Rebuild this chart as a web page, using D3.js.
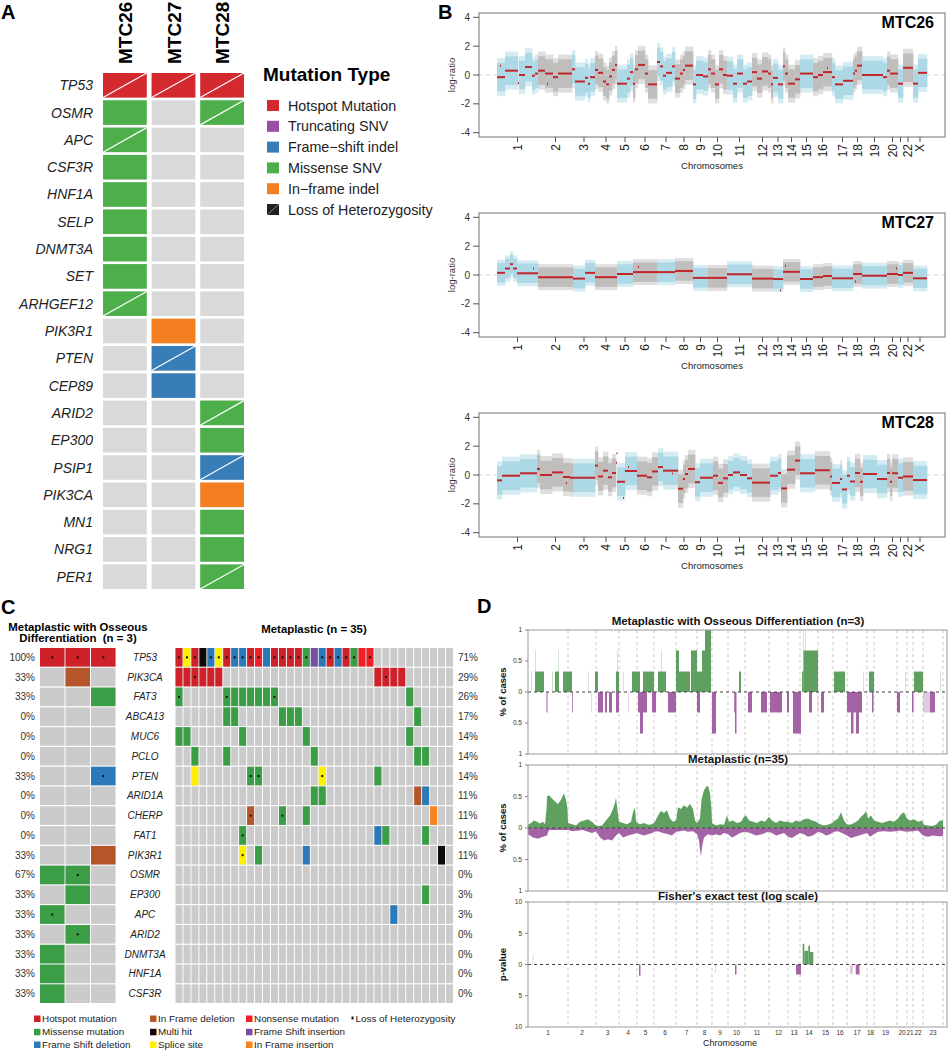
<!DOCTYPE html>
<html><head><meta charset="utf-8">
<script src="https://cdn.jsdelivr.net/npm/d3@7"></script>
<style>body{margin:0;background:#fff}svg{display:block}text{font-family:"Liberation Sans",Arial,Helvetica,sans-serif}</style>
</head><body><svg id="fig" width="948" height="1050"></svg>
<script>
// ================= DATA =================
// ---- Panel A
const aSamples = ["MTC26","MTC27","MTC28"];
const aGenes = ["TP53","OSMR","APC","CSF3R","HNF1A","SELP","DNMT3A","SET","ARHGEF12","PIK3R1","PTEN","CEP89","ARID2","EP300","PSIP1","PIK3CA","MN1","NRG1","PER1"];
const aTypes = ["Hotspot Mutation","Truncating SNV","Frame\u2212shift indel","Missense SNV","In\u2212frame indel","Loss of Heterozygosity"];
const aTypeColors = ["#d42a2f","#984ea3","#377eb8","#4daf4a","#f47f20","#231f20"];
// [gene, sample, type index, LOH flag]
const aMutations = [
  ["TP53","MTC26",0,1],["TP53","MTC27",0,1],["TP53","MTC28",0,1],
  ["OSMR","MTC26",3,0],["OSMR","MTC28",3,1],
  ["APC","MTC26",3,1],["CSF3R","MTC26",3,0],["HNF1A","MTC26",3,0],["SELP","MTC26",3,0],
  ["DNMT3A","MTC26",3,0],["SET","MTC26",3,0],["ARHGEF12","MTC26",3,1],
  ["PIK3R1","MTC27",4,0],["PTEN","MTC27",2,1],["CEP89","MTC27",2,0],
  ["ARID2","MTC28",3,1],["EP300","MTC28",3,0],["PSIP1","MTC28",2,1],["PIK3CA","MTC28",4,0],
  ["MN1","MTC28",3,0],["NRG1","MTC28",3,0],["PER1","MTC28",3,1]
];

// ---- Panel B (copy number, positions in probe-index units along the genome)
const bChroms = ["1","2","3","4","5","6","7","8","9","10","11","12","13","14","15","16","17","18","19","20","21","22","X"];
const bTickLabels = ["1","2","3","4","5","6","7","8","9","10","11","12","13","14","15","16","17","18","19","20","","22","X"];
const bChromLen = [41,35,22,22,16,24,18,18,15,19,25,21,10,17,13,19,21,9,25,11,5,10,14];
const bYTicks = [-4,-2,0,2,4];
const bNoise = [1.1, 0.75, 1.1]; // half-width of probe cloud per sample
// segments: [start, end, mean log-ratio]
const segMTC26 = [
 [0,8,-0.15],[3,4,0.65],[8,21,0.3],[21,22,-0.55],[22,28,0.0],[28,35,0.55],[35,38,-0.05],[38,41,0.1],
 [41,48,0.3],[48,56,0.1],[50,51,-0.6],[56,61,-0.15],[61,75,0.1],[75,78,0.4],
 [78,88,-0.45],[88,91,-0.2],[91,93,-0.6],[93,98,-0.15],
 [98,101,0.35],[101,106,0.15],[106,109,-0.45],[109,112,-0.65],[112,115,-0.1],[115,118,0.35],[118,120,0.7],
 [120,130,-0.6],[130,133,-0.25],[133,136,0.2],
 [136,138,-0.6],[138,141,0.4],[141,148,0.7],[148,151,0.1],[151,160,-0.65],
 [160,163,0.9],[163,166,0.6],[166,169,-0.05],[169,175,0.15],[175,178,0.6],
 [178,183,-0.25],[183,186,0.1],[186,188,0.35],[188,196,0.65],
 [196,199,-0.65],[199,206,0.0],[206,211,-0.1],
 [211,214,0.4],[214,218,0.1],[218,222,-0.65],[222,226,0.4],[226,230,0.0],
 [230,236,-0.05],[236,240,-0.6],[240,246,0.1],[246,250,-0.6],[250,255,-0.45],
 [255,260,0.2],[260,265,-0.25],[265,271,0.25],[271,274,0.1],[274,276,-0.65],
 [276,281,-0.2],[281,286,-0.65],
 [286,288,0.6],[288,291,0.1],[291,298,-0.6],[298,303,-0.3],
 [303,316,0.1],
 [316,321,-0.15],[321,326,0.0],[326,335,0.2],[330,331,0.5],
 [335,338,-0.15],[338,346,-0.65],[346,356,-0.4],
 [356,358,0.1],[358,360,0.3],[360,365,0.65],
 [365,386,0.0],[386,390,-0.15],
 [390,393,0.3],[393,401,0.1],
 [401,406,-0.6],[406,416,0.5],
 [416,421,-0.6],[421,430,0.15]
];
const segMTC27 = [
 [0,8,0.15],[8,13,0.45],[13,16,0.75],[16,20,0.45],[20,41,0.12],[36,37,0.45],
 [41,76,-0.15],[76,88,-0.25],[88,98,0.15],[98,120,-0.15],[120,136,0.07],
 [136,160,0.2],[141,142,0.55],[160,178,0.2],[178,196,0.28],
 [196,211,-0.2],[211,230,-0.2],[230,255,0.05],[255,276,-0.25],
 [276,286,-0.28],[283,284,-1.05],[286,303,0.22],[288,289,0.65],
 [303,316,-0.28],[316,326,-0.15],[326,335,-0.07],[335,356,-0.23],
 [356,365,0.07],[358,359,-0.45],[365,390,-0.05],[390,401,0.07],[399,400,0.45],
 [401,406,0.0],[406,416,0.15],[416,430,-0.23]
];
const segMTC28 = [
 [0,5,-0.37],[5,23,-0.05],[23,40,0.12],[40,43,0.42],
 [43,55,0.0],[55,66,0.18],[66,73,-0.14],[69,70,-0.55],[73,76,-0.19],
 [76,98,-0.19],
 [98,101,0.65],[101,106,-0.1],[106,111,0.3],[111,115,-0.16],[115,119,0.14],[119,120,0.85],[119.5,120.5,1.5],
 [120,128,-0.47],[126,127,-1.6],[128,140,0.28],[131,132,0.55],
 [140,150,-0.05],[150,155,-0.16],[155,161,0.25],
 [161,166,0.55],[166,181,0.3],[175,176,0.1],
 [181,186,-0.95],[186,188,-0.28],[188,191,0.07],[191,198,0.42],
 [198,203,-0.5],[203,216,-0.19],[216,221,-0.05],[221,226,-0.55],[226,231,-0.23],
 [231,236,0.0],[236,243,0.18],[243,250,0.0],[250,255,-0.23],
 [255,273,-0.53],[273,281,-0.05],[281,284,0.14],[284,290,-0.93],
 [290,298,0.37],[298,303,1.0],
 [303,318,0.12],[318,333,0.33],[333,335,-0.1],
 [335,343,-0.55],[343,345,-0.28],[345,350,-1.0],[350,353,-0.05],[353,358,-0.45],
 [358,363,0.14],[363,366,-0.47],[366,380,0.07],[380,390,-0.28],
 [390,393,0.14],[393,395,-0.47],[395,401,0.12],[401,406,-0.19],[406,416,-0.1],[416,430,-0.35]
];

// ---- Panel C (oncoprint)
const cGenes = ["TP53","PIK3CA","FAT3","ABCA13","MUC6","PCLO","PTEN","ARID1A","CHERP","FAT1","PIK3R1","OSMR","EP300","APC","ARID2","DNMT3A","HNF1A","CSF3R"];
const cPctOsseous = ["100%","33%","33%","0%","0%","0%","33%","0%","0%","0%","33%","67%","33%","33%","33%","33%","33%","33%"];
const cPctMeta = ["71%","29%","26%","17%","14%","14%","14%","11%","11%","11%","11%","0%","3%","3%","0%","0%","0%","0%"];
const cTypes = ["Hotspot mutation","Missense mutation","Frame Shift deletion","In Frame deletion","Multi hit","Splice site","Nonsense mutation","Frame Shift insertion","In Frame insertion"];
const cTypeColors = ["#cf2129","#3b9e46","#2b79b8","#b4552a","#0a0a0a","#fff000","#ee1f26","#7b4ea2","#f7821f"];
// [gene, column, type index, LOH flag]
const cOsseous = [
 ["TP53",0,0,1],["TP53",1,0,1],["TP53",2,0,1],["PIK3CA",1,3,0],["FAT3",2,1,0],["PTEN",2,2,1],
 ["PIK3R1",2,3,0],["OSMR",0,1,0],["OSMR",1,1,1],["EP300",1,1,0],["APC",0,1,1],["ARID2",1,1,1],
 ["DNMT3A",0,1,0],["HNF1A",0,1,0],["CSF3R",0,1,0]
];
const cMeta = [
 ["TP53",0,0,1],["TP53",1,5,1],["TP53",2,0,1],["TP53",3,4,0],["TP53",4,2,1],["TP53",5,5,1],["TP53",6,0,1],
 ["TP53",7,2,1],["TP53",8,2,1],["TP53",9,0,1],["TP53",10,6,1],["TP53",11,2,0],["TP53",12,0,1],["TP53",13,0,1],
 ["TP53",14,0,1],["TP53",15,0,1],["TP53",16,1,1],["TP53",17,7,0],["TP53",18,2,1],["TP53",19,0,1],["TP53",20,2,1],
 ["TP53",21,0,1],["TP53",22,1,1],["TP53",23,6,0],["TP53",24,6,1],
 ["PIK3CA",0,0,0],["PIK3CA",1,0,0],["PIK3CA",2,0,1],["PIK3CA",3,0,0],["PIK3CA",4,0,0],["PIK3CA",5,0,0],
 ["PIK3CA",25,0,0],["PIK3CA",26,0,1],["PIK3CA",27,0,0],["PIK3CA",28,0,0],
 ["FAT3",0,1,1],["FAT3",6,1,1],["FAT3",7,1,0],["FAT3",8,1,0],["FAT3",9,1,0],["FAT3",10,1,0],["FAT3",11,1,0],["FAT3",12,1,1],["FAT3",29,1,0],
 ["ABCA13",6,1,0],["ABCA13",7,1,0],["ABCA13",13,1,0],["ABCA13",14,1,0],["ABCA13",15,1,0],["ABCA13",30,1,0],
 ["MUC6",0,1,0],["MUC6",1,1,0],["MUC6",8,1,0],["MUC6",16,1,0],["MUC6",29,1,0],
 ["PCLO",2,1,0],["PCLO",6,1,0],["PCLO",17,1,0],["PCLO",30,1,0],["PCLO",31,1,0],
 ["PTEN",2,5,0],["PTEN",9,1,1],["PTEN",10,1,1],["PTEN",18,5,1],["PTEN",25,1,0],
 ["ARID1A",17,1,0],["ARID1A",18,1,0],["ARID1A",30,3,0],["ARID1A",31,2,0],
 ["CHERP",9,3,1],["CHERP",13,1,1],["CHERP",16,1,0],["CHERP",32,8,0],
 ["FAT1",8,1,1],["FAT1",25,2,0],["FAT1",26,1,0],["FAT1",31,1,0],
 ["PIK3R1",8,5,1],["PIK3R1",10,1,0],["PIK3R1",16,2,0],["PIK3R1",33,4,0],
 ["EP300",31,1,0],["APC",27,2,0]
];

// ---- Panel D (genome-wide frequency plots; positions in genome units)
const dChroms = ["1","2","3","4","5","6","7","8","9","10","11","12","13","14","15","16","17","18","19","20","21","22","23"];
const dChromLen = [40,28,23,18,17,22,21,15,16,17,24,19,12,18,15,14,20,7,23,10,6,10,20];
const dFreqTicks = [-1,-0.5,0,0.5,1];
const dPTicks = [-10,-5,0,5,10];
// osseous (n=3): [start, end, fraction, faint]
const dOssGain = [
 [3,3.6,0.33,1],[7,7.6,0.67,1],[7,16,0.33,0],[24,25,0.33,1],[27,31,0.33,0],[30,30.5,0.67,1],[35,44,0.33,0],
 [60,60.5,0.33,1],[67,70,0.33,0],[88,91,0.33,0],[89,89.7,0.67,1],[95,95.5,0.33,1],[104,112,0.33,0],
 [115,126,0.33,0],[130,138,0.33,0],[133,133.5,0.67,1],[148,151,0.67,0],[151,162,0.33,0],[163,169,0.67,0],
 [169,174,0.33,0],[174,177,0.67,0],[177,183,1.0,0],[211,213,0.33,0],[274,275.5,0.33,0],[275.5,290,0.67,0],
 [275,275.6,1.0,1],[277,277.5,1.0,1],[306,317,0.33,0],[335,335.5,0.33,1],[341,346,0.33,0],[377,377.5,0.33,1],
 [386,395,0.33,0],[412,412.6,0.33,1]
];
const dOssLoss = [
 [18.5,19.5,0.33,0],[44,44.7,0.33,0],[63,63.5,0.33,1],[70,75,0.33,0],[77,79,0.33,0],[81,84,0.33,0],[88,91,0.33,0],
 [100,100.5,0.33,1],[110,119,0.33,0],[112,115,0.67,0],[124,128,0.33,0],[140,148,0.33,0],[169,172,0.33,0],
 [184,188,0.67,0],[206,206.7,0.33,0],[207,208.5,0.67,0],[220,224,0.33,0],[233,239,0.33,0],[242,254,0.33,0],
 [259,261,0.33,0],[265,273,0.67,0],[281,284,0.33,0],[289.5,290,0.33,1],[293,296,0.33,0],[319,334,0.33,0],
 [323,325.5,0.67,0],[328,331,0.67,0],[344,345.5,0.33,0],[369,372,0.33,0],[384,385.5,0.33,0],
 [395,402,0.33,1],[402,407,0.33,0]
];
// metaplastic (n=35): [position, fraction]
const dMetaGain = [
 [0,0.05],[3,0.08],[6,0.12],[9,0.1],[12,0.07],[15,0.1],[17,0.06],[18.5,0.3],[19,0.5],[21,0.52],[24,0.47],[27,0.42],[30,0.38],[33,0.45],
 [36,0.55],[38,0.45],[39.5,0.3],[40,0.08],[44,0.06],[48,0.04],[52,0.1],[56,0.12],[60,0.14],[64,0.1],[67,0.05],[70,0.03],[74,0.04],
 [78,0.12],[82,0.2],[85,0.3],[87,0.4],[88,0.48],[89,0.35],[91,0.1],[95,0.08],[99,0.06],[103,0.1],[105,0.25],[107,0.32],[108,0.1],
 [112,0.06],[116,0.08],[120,0.05],[124,0.06],[127,0.1],[130,0.2],[133,0.27],[136,0.24],[139,0.28],[142,0.15],[145,0.1],[148,0.12],
 [150,0.33],[153,0.3],[156,0.36],[159,0.32],[162,0.38],[165,0.3],[167,0.12],[169,0.08],[172,0.15],[173.5,0.45],[176,0.6],[178,0.65],
 [180,0.67],[182,0.55],[183.5,0.3],[184,0.08],[188,0.04],[192,0.06],[196,0.05],[199,0.2],[201,0.1],[205,0.12],[209,0.08],[213,0.1],
 [216,0.18],[218,0.2],[221,0.12],[225,0.1],[229,0.08],[233,0.12],[237,0.1],[241,0.18],[244,0.12],[248,0.08],[252,0.12],[256,0.1],
 [260,0.1],[264,0.08],[268,0.12],[272,0.1],[276,0.14],[280,0.15],[284,0.12],[288,0.1],[292,0.06],[296,0.04],[300,0.05],[304,0.08],
 [307,0.12],[310,0.15],[313,0.25],[316,0.12],[319,0.06],[322,0.05],[326,0.08],[330,0.12],[333,0.18],[336,0.22],[338,0.27],[340,0.15],
 [343,0.2],[346,0.12],[350,0.1],[354,0.08],[358,0.1],[362,0.12],[366,0.1],[370,0.15],[373,0.22],[376,0.25],[379,0.15],[382,0.12],
 [386,0.14],[390,0.1],[394,0.12],[396,0.05],[400,0.04],[404,0.03],[408,0.05],[412,0.12],[415,0.12]
];
const dMetaLoss = [
 [0,0.1],[5,0.15],[10,0.17],[15,0.14],[19,0.12],[21,0.03],[40,0.03],[45,0.05],[50,0.04],[55,0.03],[60,0.06],[64,0.08],[68,0.05],
 [72,0.15],[76,0.2],[80,0.18],[84,0.2],[88,0.12],[91,0.08],[95,0.15],[100,0.12],[105,0.1],[109,0.08],[112,0.1],[116,0.12],[120,0.1],
 [124,0.08],[126,0.06],[130,0.05],[135,0.08],[140,0.1],[144,0.12],[148,0.06],[152,0.05],[156,0.04],[160,0.06],[165,0.05],[169,0.1],
 [171,0.2],[172,0.35],[173,0.45],[174,0.3],[176,0.15],[180,0.1],[184,0.12],[188,0.1],[192,0.12],[196,0.08],[200,0.1],[204,0.15],
 [208,0.12],[212,0.08],[217,0.06],[222,0.08],[228,0.12],[234,0.1],[240,0.06],[244,0.08],[248,0.12],[252,0.1],[256,0.08],[260,0.14],
 [264,0.16],[268,0.12],[272,0.08],[276,0.1],[280,0.14],[285,0.12],[290,0.06],[294,0.08],[298,0.12],[302,0.1],[306,0.06],[310,0.05],
 [314,0.08],[319,0.12],[323,0.16],[327,0.14],[331,0.12],[335,0.1],[339,0.08],[342,0.14],[346,0.1],[350,0.06],[356,0.05],[362,0.06],
 [368,0.05],[372,0.04],[378,0.06],[385,0.05],[390,0.04],[395,0.12],[400,0.14],[405,0.12],[410,0.13],[415,0.13]
];
// Fisher's exact test: [start, end, -log p, faint]
const dFisherUp = [[4.5,5,1.5,1],[274.7,276.3,3.3,0],[276.3,280.3,2.2,0],[280.3,282,3.0,0],[282,285.3,2.0,0]];
const dFisherDown = [[111,112.5,1.8,0],[187,187.5,1.3,1],[207,208.5,1.6,0],[268,273,1.6,0],[322,325,1.5,1],[327.7,331.3,1.6,0],[331.3,332,1.8,1]];

// ================= DRAWING =================
const svg = d3.select("#fig");
svg.append("rect").attr("width",948).attr("height",1050).attr("fill","#fff");
const panelLabel = (t,x,y)=>svg.append("text").attr("x",x).attr("y",y).attr("font-size",20).attr("font-weight","bold").text(t);

// ---------- Panel A ----------
panelLabel("A",1,19);
const gA = svg.append("g");
const ax = d3.scaleBand().domain(aSamples).range([103,244]).paddingInner(0.1);
const ay = d3.scaleBand().domain(aGenes).range([73,589]).paddingInner(0.1);
gA.selectAll("rect.bg").data(d3.cross(aGenes,aSamples)).join("rect").attr("class","bg")
  .attr("x",d=>ax(d[1])).attr("y",d=>ay(d[0])).attr("width",ax.bandwidth()).attr("height",ay.bandwidth()).attr("fill","#d9d9d9");
gA.selectAll("rect.mut").data(aMutations).join("rect").attr("class","mut")
  .attr("x",d=>ax(d[1])).attr("y",d=>ay(d[0])).attr("width",ax.bandwidth()).attr("height",ay.bandwidth()).attr("fill",d=>aTypeColors[d[2]]);
gA.selectAll("line.loh").data(aMutations.filter(d=>d[3])).join("line").attr("class","loh")
  .attr("x1",d=>ax(d[1])).attr("y1",d=>ay(d[0])+ay.bandwidth()).attr("x2",d=>ax(d[1])+ax.bandwidth()).attr("y2",d=>ay(d[0]))
  .attr("stroke","#fff").attr("stroke-width",1.2);
gA.selectAll("text.samp").data(aSamples).join("text").attr("class","samp")
  .attr("transform",d=>`translate(${ax(d)+ax.bandwidth()/2+7},64) rotate(-90)`)
  .attr("font-size",19).attr("font-weight","bold").text(d=>d);
gA.selectAll("text.gene").data(aGenes).join("text").attr("class","gene")
  .attr("x",93).attr("y",d=>ay(d)+ay.bandwidth()/2+5).attr("text-anchor","end")
  .attr("font-size",14).attr("font-style","italic").attr("fill","#222").text(d=>d);
gA.append("text").attr("x",263).attr("y",81).attr("font-size",19).attr("font-weight","bold").text("Mutation Type");
const aLeg = gA.selectAll("g.leg").data(aTypes).join("g").attr("class","leg")
  .attr("transform",(d,i)=>`translate(267,${100+i*20.8})`);
aLeg.append("rect").attr("width",12).attr("height",11).attr("fill",(d,i)=>aTypeColors[i]);
aLeg.filter((d,i)=>i===5).append("line").attr("x1",0).attr("y1",11).attr("x2",12).attr("y2",0).attr("stroke","#888").attr("stroke-width",1);
aLeg.append("text").attr("x",21).attr("y",10.5).attr("font-size",14.3).attr("fill","#222").text(d=>d);

// ---------- Panel B ----------
panelLabel("B",438,19);
const bEnds = d3.cumsum(bChromLen);
const bStarts = bChromLen.map((l,i)=>bEnds[i]-l);
const bx = d3.scaleLinear().domain([0,d3.sum(bChromLen)]).range([497,927]);
const bSamples = [["MTC26",segMTC26,13],["MTC27",segMTC27,213],["MTC28",segMTC28,413]];
const chromIndexAt = p => { for (let i=0;i<bEnds.length;i++) if (p < bEnds[i]) return i; return bEnds.length-1; };
const cloudCols = [["#add8e6","#d6ecf3"],["#c0bdbd","#e0dede"]];
bSamples.forEach(([name,segs,top],si)=>{
  const g = svg.append("g");
  const by = d3.scaleLinear().domain([-4.3,4.3]).range([top+124,top]);
  const noise = bNoise[si];
  const clouds = segs.filter(s=>s[1]-s[0]>=1.5);
  [[1.2,1],[0.9,0]].forEach(([f,k])=>{
    g.selectAll(null).data(clouds).join("rect")
      .attr("x",d=>bx(d[0])).attr("width",d=>bx(d[1])-bx(d[0])+0.3)
      .attr("y",d=>by(d[2]+noise*f)).attr("height",d=>by(d[2]-noise*f)-by(d[2]+noise*f))
      .attr("fill",d=>cloudCols[chromIndexAt((d[0]+d[1])/2)%2][k]);
  });
  g.append("line").attr("x1",479).attr("x2",945).attr("y1",by(0)).attr("y2",by(0))
    .attr("stroke","#cccccc").attr("stroke-dasharray","4,3").attr("stroke-width",0.8);
  g.selectAll(null).data(segs).join("line")
    .attr("x1",d=>bx(d[0])).attr("x2",d=>bx(d[1])).attr("y1",d=>by(d[2])).attr("y2",d=>by(d[2]))
    .attr("stroke","#c0262c").attr("stroke-width",2);
  g.append("rect").attr("x",479).attr("y",top).attr("width",466).attr("height",124)
    .attr("fill","none").attr("stroke","#707070").attr("stroke-width",1);
  // y axis
  g.selectAll(null).data(bYTicks).join("line").attr("x1",473).attr("x2",479).attr("y1",d=>by(d)).attr("y2",d=>by(d)).attr("stroke","#555");
  g.selectAll(null).data(bYTicks).join("text").attr("x",470).attr("y",d=>by(d)+3.5).attr("text-anchor","end")
    .attr("font-size",10).attr("fill","#333").text(d=>d);
  g.append("text").attr("transform",`translate(455,${by(0)}) rotate(-90)`).attr("text-anchor","middle")
    .attr("font-size",9.5).attr("fill","#333").text("log-ratio");
  // x axis
  const mids = bChroms.map((c,i)=>(bStarts[i]+bEnds[i])/2);
  g.selectAll(null).data(mids).join("line").attr("x1",d=>bx(d)).attr("x2",d=>bx(d)).attr("y1",top+124).attr("y2",top+129).attr("stroke","#555");
  g.selectAll(null).data(mids).join("text").attr("transform",(d)=>`translate(${bx(d)+4.2},${top+131}) rotate(-90)`)
    .attr("text-anchor","end").attr("font-size",12).attr("fill","#222").text((d,i)=>bTickLabels[i]);
  g.append("text").attr("x",712).attr("y",top+156).attr("text-anchor","middle").attr("font-size",9.5).attr("fill","#222").text("Chromosomes");
  g.append("text").attr("x",934).attr("y",top+15).attr("text-anchor","end").attr("font-size",16).attr("font-weight","bold").text(name);
});

// ---------- Panel C ----------
panelLabel("C",1,614);
const gC = svg.append("g");
gC.append("text").attr("x",78).attr("y",631).attr("text-anchor","middle").attr("font-size",11.4).attr("font-weight","bold").text("Metaplastic with Osseous");
gC.append("text").attr("x",78).attr("y",642).attr("text-anchor","middle").attr("font-size",11.4).attr("font-weight","bold").attr("xml:space","preserve").text("Differentiation  (n = 3)");
gC.append("text").attr("x",314).attr("y",633).attr("text-anchor","middle").attr("font-size",11.4).attr("font-weight","bold").text("Metaplastic (n = 35)");
const cy = d3.scaleBand().domain(cGenes).range([648,1003]).paddingInner(0.06);
const cxL = d3.scaleBand().domain(d3.range(3)).range([40,115.5]).paddingInner(0.04);
const cxR = d3.scaleBand().domain(d3.range(35)).range([175.5,453]).paddingInner(0.12);
function drawGrid(xs, ncol, muts){
  gC.selectAll(null).data(d3.cross(cGenes,d3.range(ncol))).join("rect")
    .attr("x",d=>xs(d[1])).attr("y",d=>cy(d[0])).attr("width",xs.bandwidth()).attr("height",cy.bandwidth()).attr("fill","#cbcbcb");
  gC.selectAll(null).data(muts).join("rect")
    .attr("x",d=>xs(d[1])).attr("y",d=>cy(d[0])).attr("width",xs.bandwidth()).attr("height",cy.bandwidth()).attr("fill",d=>cTypeColors[d[2]]);
  gC.selectAll(null).data(muts.filter(d=>d[3])).join("rect")
    .attr("x",d=>xs(d[1])+xs.bandwidth()/2-1).attr("y",d=>cy(d[0])+cy.bandwidth()/2-1).attr("width",2).attr("height",2).attr("fill","#111");
}
drawGrid(cxL,3,cOsseous);
drawGrid(cxR,35,cMeta);
gC.selectAll(null).data(cGenes).join("text").attr("x",35).attr("y",d=>cy(d)+cy.bandwidth()/2+3.5).attr("text-anchor","end")
  .attr("font-size",10).attr("fill","#333").text((d,i)=>cPctOsseous[i]);
gC.selectAll(null).data(cGenes).join("text").attr("x",145).attr("y",d=>cy(d)+cy.bandwidth()/2+3.5).attr("text-anchor","middle")
  .attr("font-size",10).attr("font-style","italic").attr("fill","#222").text(d=>d);
gC.selectAll(null).data(cGenes).join("text").attr("x",458).attr("y",d=>cy(d)+cy.bandwidth()/2+3.5)
  .attr("font-size",10).attr("fill","#333").text((d,i)=>cPctMeta[i]);
// legend (column-major)
const cLegCols = [34,150,246];
const cLegRows = [1022,1035.3,1048];
const cLegOrder = [[0,1,2],[3,4,5],[6,7,8]];
cLegOrder.forEach((col,ci)=>col.forEach((ti,ri)=>{
  gC.append("rect").attr("x",cLegCols[ci]).attr("y",cLegRows[ri]-6.5).attr("width",6.5).attr("height",6.5).attr("fill",cTypeColors[ti]);
  gC.append("text").attr("x",cLegCols[ci]+8).attr("y",cLegRows[ri]).attr("font-size",9.9).attr("fill","#222").text(cTypes[ti]);
}));
gC.append("rect").attr("x",351.5).attr("y",cLegRows[0]-5.5).attr("width",2).attr("height",3).attr("fill","#111");
gC.append("text").attr("x",355.5).attr("y",cLegRows[0]).attr("font-size",9.9).attr("fill","#222").text("Loss of Heterozygosity");

// ---------- Panel D ----------
panelLabel("D",477,613);
const gD = svg.append("g");
const dEnds = d3.cumsum(dChromLen);
const dStarts = dChromLen.map((l,i)=>dEnds[i]-l);
const dx = d3.scaleLinear().domain([0,d3.sum(dChromLen)]).range([528,943]);
const dGreen = "#5f9f5f", dPurple = "#a463a4";
const dPanels = [
  {title:"Metaplastic with Osseous Differentiation (n=3)", top:630, bottom:754, dom:[-1,1], ticks:dFreqTicks, ylab:"% of cases", tb:625},
  {title:"Metaplastic (n=35)", top:765, bottom:891, dom:[-1,1], ticks:dFreqTicks, ylab:"% of cases", tb:763},
  {title:"Fisher's exact test (log scale)", top:902, bottom:1027, dom:[-10,10], ticks:dPTicks, ylab:"p-value", tb:900}
];
dPanels.forEach((p,pi)=>{
  const y = d3.scaleLinear().domain(p.dom).range([p.bottom,p.top]);
  const g = gD.append("g");
  g.selectAll(null).data(dStarts.slice(1).concat([d3.sum(dChromLen)])).join("line")
    .attr("x1",d=>dx(d)).attr("x2",d=>dx(d)).attr("y1",p.top).attr("y2",p.bottom)
    .attr("stroke","#bdbdbd").attr("stroke-dasharray","3,3").attr("stroke-width",0.8);
  const bar = (arr,sign,col)=>g.selectAll(null).data(arr).join("rect")
    .attr("x",d=>dx(d[0])).attr("width",d=>Math.max(0.8,dx(d[1])-dx(d[0])))
    .attr("y",d=>sign>0?y(d[2]):y(0)).attr("height",d=>Math.abs(y(0)-y(sign*d[2])))
    .attr("fill",col).attr("opacity",d=>d[3]?0.35:1);
  if (pi===0){
    bar(dOssGain,1,dGreen); bar(dOssLoss,-1,dPurple);
  } else if (pi===1){
    g.append("path").datum(dMetaGain).attr("fill",dGreen)
      .attr("d",d3.area().x(d=>dx(d[0])).y0(y(0)).y1(d=>y(d[1])));
    g.append("path").datum(dMetaLoss).attr("fill",dPurple)
      .attr("d",d3.area().x(d=>dx(d[0])).y0(y(0)).y1(d=>y(-d[1])));
  } else {
    bar(dFisherUp,1,dGreen); bar(dFisherDown,-1,dPurple);
  }
  g.append("line").attr("x1",528).attr("x2",947).attr("y1",y(0)).attr("y2",y(0))
    .attr("stroke","#444").attr("stroke-dasharray","3,3").attr("stroke-width",1.1);
  g.append("rect").attr("x",528).attr("y",p.top).attr("width",419).attr("height",p.bottom-p.top)
    .attr("fill","none").attr("stroke","#9a9a9a").attr("stroke-width",1);
  g.selectAll(null).data(p.ticks).join("line").attr("x1",525).attr("x2",528).attr("y1",d=>y(d)).attr("y2",d=>y(d)).attr("stroke","#888");
  g.selectAll(null).data(p.ticks).join("text").attr("x",522).attr("y",d=>y(d)+2.3).attr("text-anchor","end")
    .attr("font-size",6.5).attr("fill","#333").text(d=>Math.abs(d));
  g.append("text").attr("transform",`translate(506,${y(0)}) rotate(-90)`).attr("text-anchor","middle")
    .attr("font-size",9.5).attr("font-weight","bold").attr("fill","#111").text(p.ylab);
  g.append("text").attr("x",738).attr("y",p.tb).attr("text-anchor","middle")
    .attr("font-size",11.5).attr("font-weight","bold").attr("fill","#111").text(p.title);
});
gD.selectAll(null).data(dChroms).join("text")
  .attr("x",(d,i)=>dx((dStarts[i]+dEnds[i])/2)).attr("y",1035).attr("text-anchor","middle")
  .attr("font-size",6.5).attr("fill","#333").text(d=>d);
gD.append("text").attr("x",730).attr("y",1046).attr("text-anchor","middle").attr("font-size",9).attr("fill","#222").text("Chromosome");
</script></body></html>
